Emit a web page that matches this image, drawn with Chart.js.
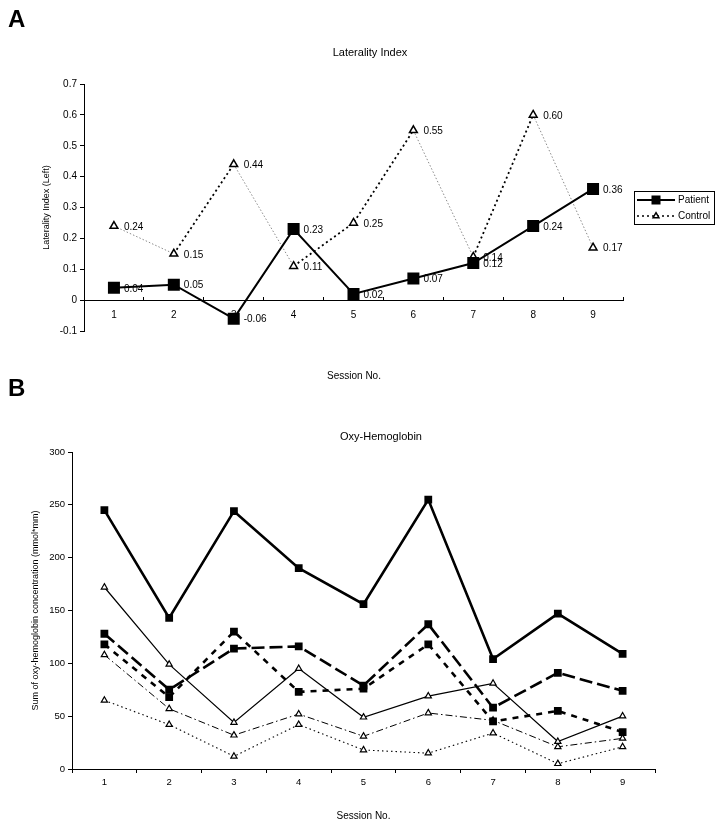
<!DOCTYPE html>
<html>
<head>
<meta charset="utf-8">
<script src="https://cdn.jsdelivr.net/npm/chart.js@4.4.1/dist/chart.umd.min.js"></script>
<style>
  html, body { margin: 0; padding: 0; background: #fff; }
  body { width: 724px; height: 829px; position: relative; overflow: hidden; font-family: "Liberation Sans", Arial, sans-serif; color: #000; }
  canvas { position: absolute; left: 0; }
  #chartA { top: 0; }
  #chartB { top: 400px; }
  .lbl { position: absolute; white-space: nowrap; line-height: 1; }
  .panel { font-size: 24px; font-weight: bold; left: 8px; }
  .ttl { font-size: 11px; width: 300px; text-align: center; }
</style>
</head>
<body>
<canvas id="chartA" width="724" height="390"></canvas>
<canvas id="chartB" width="724" height="429"></canvas>
<div class="lbl panel" style="top:7px">A</div>
<div class="lbl panel" style="top:376px">B</div>
<div class="lbl ttl" style="left:220px;top:47px">Laterality Index</div>
<div class="lbl ttl" style="left:231px;top:431px">Oxy-Hemoglobin</div>
<div class="lbl" style="font-size:10px;width:200px;text-align:center;left:254px;top:371px">Session No.</div>
<script>
const sessions = ["1", "2", "3", "4", "5", "6", "7", "8", "9"];

// A - laterality index
const patientLI = [0.04, 0.05, -0.06, 0.23, 0.02, 0.07, 0.12, 0.24, 0.36];
const controlLI = [0.24, 0.15, 0.44, 0.11, 0.25, 0.55, 0.14, 0.60, 0.17];

// B - sum of oxy-hemoglobin
const patientSum = [245, 143, 244, 190, 156, 255, 104, 147, 109];
const patientLeft = [128, 75, 114, 116, 79, 137, 58, 91, 74];
const patientRight = [118, 68, 130, 73, 76, 118, 45, 55, 35];
const controlSum = [172, 99, 44, 95, 49, 69, 81, 26, 50];
const controlLeft = [108, 57, 32, 52, 31, 53, 46, 21, 29];
const controlRight = [65, 42, 12, 42, 18, 15, 34, 5, 21];

Chart.defaults.font.family = '"Liberation Sans", Arial, sans-serif';
Chart.defaults.color = "#000";

// small marker for the legend samples
function marker(ctx, style, x, y, r, fill, lw) {
  ctx.beginPath();
  if (style === "rect") {
    const s = r * Math.SQRT1_2;
    ctx.rect(x - s, y - s, 2 * s, 2 * s);
  } else {
    const a = 2 * Math.PI / 3;
    ctx.moveTo(x, y - r);
    ctx.lineTo(x + Math.sin(a) * r, y - Math.cos(a) * r);
    ctx.lineTo(x + Math.sin(2 * a) * r, y - Math.cos(2 * a) * r);
    ctx.closePath();
  }
  ctx.fillStyle = fill;
  ctx.fill();
  if (lw > 0) { ctx.lineWidth = lw; ctx.strokeStyle = "#000"; ctx.stroke(); }
}

const boxLegend = {
  id: "boxLegend",
  afterDraw(chart, args, o) {
    const ctx = chart.ctx;
    ctx.save();
    ctx.setLineDash([]);
    ctx.lineWidth = 1;
    ctx.strokeStyle = "#000";
    ctx.strokeRect(o.x + 0.5, o.y + 0.5, o.w, o.h);
    ctx.font = o.fontSize + 'px "Liberation Sans", Arial, sans-serif';
    ctx.textBaseline = "middle";
    chart.data.datasets.forEach((ds, i) => {
      const y = o.y + o.first + i * o.row;
      ctx.beginPath();
      ctx.setLineDash(ds.borderDash || []);
      ctx.lineWidth = ds.borderWidth;
      ctx.strokeStyle = "#000";
      ctx.moveTo(o.x0, y);
      ctx.lineTo(o.x1, y);
      ctx.stroke();
      ctx.setLineDash([]);
      marker(ctx, ds.pointStyle, (o.x0 + o.x1) / 2, y, ds.pointRadius * o.scale, ds.pointBackgroundColor, ds.pointBorderWidth);
      ctx.fillStyle = "#000";
      ctx.fillText(ds.label, o.tx, y);
    });
    ctx.restore();
  }
};

// value text right of each point (panel A only)
const valueLabels = {
  id: "valueLabels",
  afterDatasetsDraw(chart, args, o) {
    if (!o.show) return;
    const ctx = chart.ctx;
    ctx.save();
    ctx.font = '10px "Liberation Sans", Arial, sans-serif';
    ctx.fillStyle = "#000";
    ctx.textBaseline = "middle";
    chart.data.datasets.forEach((ds, i) => {
      chart.getDatasetMeta(i).data.forEach((pt, j) => {
        ctx.fillText(ds.data[j].toFixed(2), pt.x + 10, pt.y + 1);
      });
    });
    ctx.restore();
  }
};

const down = c => c.p1.parsed.y < c.p0.parsed.y;

new Chart(document.getElementById("chartA"), {
  type: "line",
  data: {
    labels: sessions,
    datasets: [
      {
        label: "Patient", data: patientLI,
        borderColor: "#000", borderWidth: 2,
        pointStyle: "rect", pointRadius: 8.5,
        pointBackgroundColor: "#000", pointBorderColor: "#000", pointBorderWidth: 0
      },
      {
        label: "Control", data: controlLI,
        borderColor: "#000", borderWidth: 1.6, borderDash: [2, 3],
        pointStyle: "triangle", pointRadius: 4.5,
        pointBackgroundColor: "#fff", pointBorderColor: "#000", pointBorderWidth: 1.5,
        segment: {
          borderColor: c => down(c) ? "#8a8a8a" : "#000",
          borderWidth: c => down(c) ? 1 : 1.8,
          borderDash: c => down(c) ? [1.5, 2] : [2, 3]
        }
      }
    ]
  },
  options: {
    responsive: false,
    animation: false,
    layout: { padding: { top: 84, bottom: 59, left: 0, right: 101 } },
    scales: {
      x: {
        position: { y: 0 },
        offset: true,
        // ticks point up from the zero line in this panel
        grid: { offset: true, drawOnChartArea: false, color: "#000", tickLength: -4 },
        border: { color: "#000" },
        ticks: { padding: 13, font: { size: 10 }, maxRotation: 0 }
      },
      y: {
        min: -0.1, max: 0.7,
        ticks: { stepSize: 0.1, padding: 3, font: { size: 10 }, callback: v => String(Math.round(v * 10) / 10) },
        grid: { drawOnChartArea: false, color: "#000", tickLength: 4 },
        border: { color: "#000" },
        title: { display: true, text: "Laterality Index (Left)", font: { size: 9 }, padding: { top: 41.6, bottom: 0 } },
        afterFit: s => { s.width = 84; }
      }
    },
    plugins: {
      legend: { display: false },
      tooltip: { enabled: false },
      valueLabels: { show: true },
      boxLegend: { x: 634, y: 191, w: 80, h: 33, first: 9, row: 16, x0: 637, x1: 675, tx: 678, fontSize: 10, scale: 0.75 }
    }
  },
  plugins: [boxLegend, valueLabels]
});

const thick = { borderColor: "#000", borderWidth: 2.6, pointStyle: "rect", pointRadius: 5.5,
  pointBackgroundColor: "#000", pointBorderColor: "#000", pointBorderWidth: 0 };
const thin = { borderColor: "#000", pointStyle: "triangle", pointRadius: 3.6,
  pointBackgroundColor: "#fff", pointBorderColor: "#000", pointBorderWidth: 1.2 };

new Chart(document.getElementById("chartB"), {
  type: "line",
  data: {
    labels: sessions,
    datasets: [
      { ...thick, label: "Patient", data: patientSum },
      { ...thick, label: "Left", data: patientLeft, borderDash: [13, 5] },
      { ...thick, label: "Right", data: patientRight, borderDash: [6, 6] },
      { ...thin, label: "Control", data: controlSum, borderWidth: 1.2 },
      { ...thin, label: "Left", data: controlLeft, borderWidth: 1, borderDash: [7, 3, 1.5, 3] },
      { ...thin, label: "Right", data: controlRight, borderWidth: 1.1, borderDash: [1.5, 3] }
    ]
  },
  options: {
    responsive: false,
    animation: false,
    layout: { padding: { top: 52, bottom: 0, left: 0, right: 69 } },
    scales: {
      x: {
        offset: true,
        grid: { offset: true, drawOnChartArea: false, color: "#000", tickLength: 4 },
        border: { color: "#000" },
        ticks: { padding: 4, font: { size: 9.5 }, maxRotation: 0 },
        title: { display: true, text: "Session No.", font: { size: 10 }, padding: { top: 0, bottom: 7 } },
        afterFit: s => { s.height = 60; }
      },
      y: {
        min: 0, max: 300,
        ticks: { stepSize: 50, padding: 3, font: { size: 9.5 } },
        grid: { drawOnChartArea: false, color: "#000", tickLength: 4 },
        border: { color: "#000" },
        title: { display: true, text: "Sum of oxy-hemoglobin concentration (mmol*mm)", font: { size: 9 }, padding: { top: 30.6, bottom: 0 } },
        afterFit: s => { s.width = 72; }
      }
    },
    plugins: {
      legend: { display: false },
      tooltip: { enabled: false },
      valueLabels: { show: false },
      boxLegend: { x: 638, y: 569, w: 70, h: 80, first: 8, row: 13.4, x0: 641, x1: 672, tx: 674, fontSize: 10, scale: 0.8 }
    }
  },
  plugins: [boxLegend, valueLabels]
});
</script>
</body>
</html>
